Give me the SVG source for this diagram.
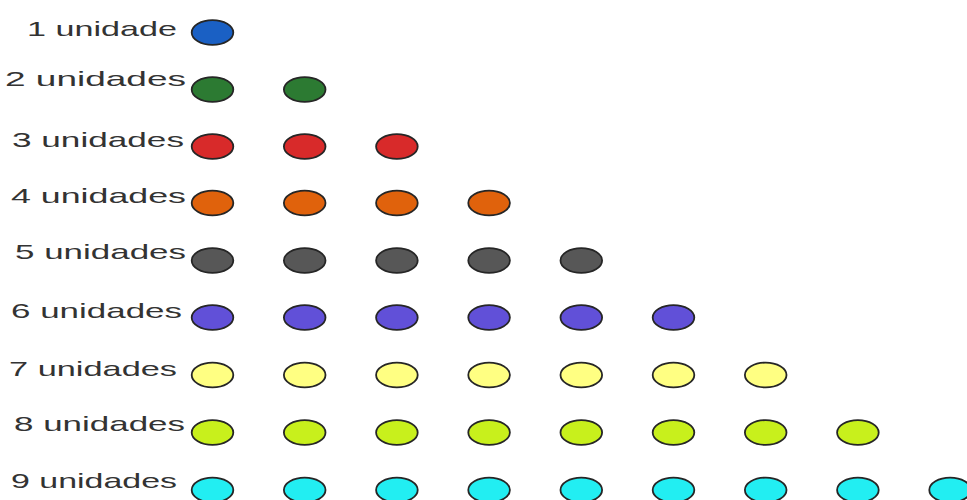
<svg xmlns="http://www.w3.org/2000/svg" width="967" height="500" viewBox="0 0 967 500">
<style>
text{font-family:"Liberation Sans",Arial,sans-serif;font-size:21px;fill:#333}
ellipse{stroke:#262626;stroke-width:1.8}
.c1{fill:#1a60c4}.c2{fill:#2c7a32}.c3{fill:#d82a2a}.c4{fill:#e0620c}.c5{fill:#575757}
.c6{fill:#6150d8}.c7{fill:#ffff82}.c8{fill:#c8f01c}.c9{fill:#22eef2}
</style>
<g id="labels">
<text x="27" y="36" textLength="150" lengthAdjust="spacingAndGlyphs">1 unidade</text>
<text x="5" y="86" textLength="181" lengthAdjust="spacingAndGlyphs">2 unidades</text>
<text x="12" y="147" textLength="172" lengthAdjust="spacingAndGlyphs">3 unidades</text>
<text x="11" y="203" textLength="175" lengthAdjust="spacingAndGlyphs">4 unidades</text>
<text x="15" y="259" textLength="171" lengthAdjust="spacingAndGlyphs">5 unidades</text>
<text x="11" y="318" textLength="171" lengthAdjust="spacingAndGlyphs">6 unidades</text>
<text x="9" y="376" textLength="168" lengthAdjust="spacingAndGlyphs">7 unidades</text>
<text x="14" y="431" textLength="171" lengthAdjust="spacingAndGlyphs">8 unidades</text>
<text x="11" y="488" textLength="166" lengthAdjust="spacingAndGlyphs">9 unidades</text>
</g>
<g id="row1">
<g id="n1-1"><ellipse cx="212.5" cy="32.5" rx="20.8" ry="12.4" class="c1"/></g>
</g>
<g id="row2">
<g id="n2-1"><ellipse cx="212.5" cy="89.5" rx="20.8" ry="12.4" class="c2"/></g>
<g id="n2-2"><ellipse cx="304.7" cy="89.5" rx="20.8" ry="12.4" class="c2"/></g>
</g>
<g id="row3">
<g id="n3-1"><ellipse cx="212.5" cy="146.5" rx="20.8" ry="12.4" class="c3"/></g>
<g id="n3-2"><ellipse cx="304.7" cy="146.5" rx="20.8" ry="12.4" class="c3"/></g>
<g id="n3-3"><ellipse cx="396.9" cy="146.5" rx="20.8" ry="12.4" class="c3"/></g>
</g>
<g id="row4">
<g id="n4-1"><ellipse cx="212.5" cy="203" rx="20.8" ry="12.4" class="c4"/></g>
<g id="n4-2"><ellipse cx="304.7" cy="203" rx="20.8" ry="12.4" class="c4"/></g>
<g id="n4-3"><ellipse cx="396.9" cy="203" rx="20.8" ry="12.4" class="c4"/></g>
<g id="n4-4"><ellipse cx="489.1" cy="203" rx="20.8" ry="12.4" class="c4"/></g>
</g>
<g id="row5">
<g id="n5-1"><ellipse cx="212.5" cy="260.5" rx="20.8" ry="12.4" class="c5"/></g>
<g id="n5-2"><ellipse cx="304.7" cy="260.5" rx="20.8" ry="12.4" class="c5"/></g>
<g id="n5-3"><ellipse cx="396.9" cy="260.5" rx="20.8" ry="12.4" class="c5"/></g>
<g id="n5-4"><ellipse cx="489.1" cy="260.5" rx="20.8" ry="12.4" class="c5"/></g>
<g id="n5-5"><ellipse cx="581.3" cy="260.5" rx="20.8" ry="12.4" class="c5"/></g>
</g>
<g id="row6">
<g id="n6-1"><ellipse cx="212.5" cy="317.5" rx="20.8" ry="12.4" class="c6"/></g>
<g id="n6-2"><ellipse cx="304.7" cy="317.5" rx="20.8" ry="12.4" class="c6"/></g>
<g id="n6-3"><ellipse cx="396.9" cy="317.5" rx="20.8" ry="12.4" class="c6"/></g>
<g id="n6-4"><ellipse cx="489.1" cy="317.5" rx="20.8" ry="12.4" class="c6"/></g>
<g id="n6-5"><ellipse cx="581.3" cy="317.5" rx="20.8" ry="12.4" class="c6"/></g>
<g id="n6-6"><ellipse cx="673.5" cy="317.5" rx="20.8" ry="12.4" class="c6"/></g>
</g>
<g id="row7">
<g id="n7-1"><ellipse cx="212.5" cy="375" rx="20.8" ry="12.4" class="c7"/></g>
<g id="n7-2"><ellipse cx="304.7" cy="375" rx="20.8" ry="12.4" class="c7"/></g>
<g id="n7-3"><ellipse cx="396.9" cy="375" rx="20.8" ry="12.4" class="c7"/></g>
<g id="n7-4"><ellipse cx="489.1" cy="375" rx="20.8" ry="12.4" class="c7"/></g>
<g id="n7-5"><ellipse cx="581.3" cy="375" rx="20.8" ry="12.4" class="c7"/></g>
<g id="n7-6"><ellipse cx="673.5" cy="375" rx="20.8" ry="12.4" class="c7"/></g>
<g id="n7-7"><ellipse cx="765.7" cy="375" rx="20.8" ry="12.4" class="c7"/></g>
</g>
<g id="row8">
<g id="n8-1"><ellipse cx="212.5" cy="432.5" rx="20.8" ry="12.4" class="c8"/></g>
<g id="n8-2"><ellipse cx="304.7" cy="432.5" rx="20.8" ry="12.4" class="c8"/></g>
<g id="n8-3"><ellipse cx="396.9" cy="432.5" rx="20.8" ry="12.4" class="c8"/></g>
<g id="n8-4"><ellipse cx="489.1" cy="432.5" rx="20.8" ry="12.4" class="c8"/></g>
<g id="n8-5"><ellipse cx="581.3" cy="432.5" rx="20.8" ry="12.4" class="c8"/></g>
<g id="n8-6"><ellipse cx="673.5" cy="432.5" rx="20.8" ry="12.4" class="c8"/></g>
<g id="n8-7"><ellipse cx="765.7" cy="432.5" rx="20.8" ry="12.4" class="c8"/></g>
<g id="n8-8"><ellipse cx="857.9" cy="432.5" rx="20.8" ry="12.4" class="c8"/></g>
</g>
<g id="row9">
<g id="n9-1"><ellipse cx="212.5" cy="490" rx="20.8" ry="12.4" class="c9"/></g>
<g id="n9-2"><ellipse cx="304.7" cy="490" rx="20.8" ry="12.4" class="c9"/></g>
<g id="n9-3"><ellipse cx="396.9" cy="490" rx="20.8" ry="12.4" class="c9"/></g>
<g id="n9-4"><ellipse cx="489.1" cy="490" rx="20.8" ry="12.4" class="c9"/></g>
<g id="n9-5"><ellipse cx="581.3" cy="490" rx="20.8" ry="12.4" class="c9"/></g>
<g id="n9-6"><ellipse cx="673.5" cy="490" rx="20.8" ry="12.4" class="c9"/></g>
<g id="n9-7"><ellipse cx="765.7" cy="490" rx="20.8" ry="12.4" class="c9"/></g>
<g id="n9-8"><ellipse cx="857.9" cy="490" rx="20.8" ry="12.4" class="c9"/></g>
<g id="n9-9"><ellipse cx="950.1" cy="490" rx="20.8" ry="12.4" class="c9"/></g>
</g>
<g id="connectors"/>
</svg>
